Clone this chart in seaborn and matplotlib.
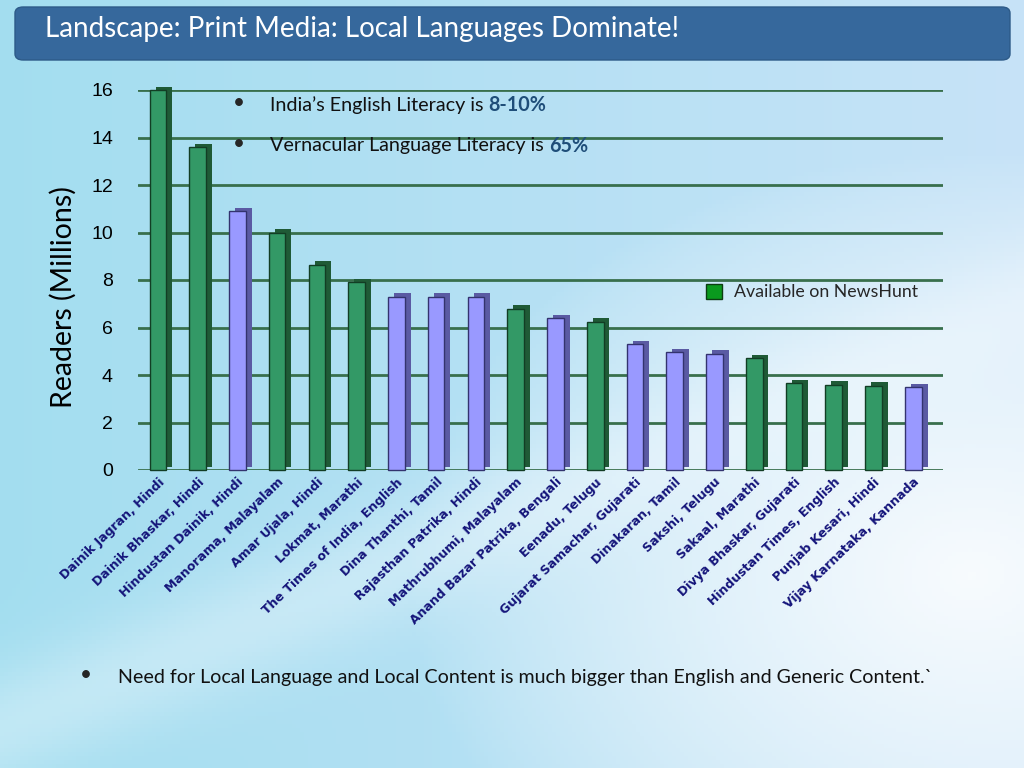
import numpy as np
import pandas as pd
import matplotlib
matplotlib.use("Agg")
import matplotlib.pyplot as plt
import matplotlib.patheffects as pe
import matplotlib.colors as mcolors
from matplotlib.patches import FancyBboxPatch, Patch
import seaborn as sns

papers = ["Dainik Jagran, Hindi", "Dainik Bhaskar, Hindi", "Hindustan Dainik, Hindi",
          "Manorama, Malayalam", "Amar Ujala, Hindi", "Lokmat, Marathi",
          "The Times of India, English", "Dina Thanthi, Tamil", "Rajasthan Patrika, Hindi",
          "Mathrubhumi, Malayalam", "Anand Bazar Patrika, Bengali", "Eenadu, Telugu",
          "Gujarat Samachar, Gujarati", "Dinakaran, Tamil", "Sakshi, Telugu",
          "Sakaal, Marathi", "Divya Bhaskar, Gujarati", "Hindustan Times, English",
          "Punjab Kesari, Hindi", "Vijay Karnataka, Kannada"]
readers = [16.0, 13.6, 10.9, 10.0, 8.65, 7.9, 7.3, 7.3, 7.3, 6.8,
           6.4, 6.25, 5.3, 4.95, 4.9, 4.7, 3.65, 3.6, 3.55, 3.5]
on_newshunt = [True, True, False, True, True, True, False, False, False, True,
               False, True, False, False, False, True, True, True, True, False]
yticks = [0, 2, 4, 6, 8, 10, 12, 14, 16]

sns.set_theme(style="white")
plt.rcParams['font.family'] = ['DejaVu Sans']

df = pd.DataFrame({"paper": papers, "readers": readers,
                   "group": ["yes" if v else "no" for v in on_newshunt]})

fig = plt.figure(figsize=(10.24, 7.68), dpi=100)

# background gradient
bg = fig.add_axes([0, 0, 1, 1], zorder=-10)
h, w = 192, 256
yy, xx = np.mgrid[0:1:h*1j, 0:1:w*1j]
left = np.array([0.64, 0.87, 0.94])
right = np.array([0.78, 0.89, 0.97])
white = np.array([0.97, 0.985, 0.995])
img = left[None, None, :] * (1 - xx[..., None]) + right[None, None, :] * xx[..., None]
d = np.sqrt(((xx - 0.95) / 0.55) ** 2 + ((yy - 0.75) / 0.55) ** 2)
wgt = np.clip(1 - d, 0, 1)[..., None] ** 0.8
img = img * (1 - wgt) + white * wgt
band = np.exp(-((yy - (0.95 - 0.55 * xx)) / 0.08) ** 2)[..., None] * 0.35
img = img * (1 - band) + white * band
bg.imshow(img, aspect='auto', extent=[0, 1, 0, 1], origin='upper')
bg.set_axis_off()

font = ['Lato', 'DejaVu Sans']

# title bar
fig.patches.append(FancyBboxPatch((15 / 1024, 1 - 60 / 768), 995 / 1024, 53 / 768,
                                  boxstyle="round,pad=0,rounding_size=0.008",
                                  transform=fig.transFigure, facecolor="#36689c",
                                  edgecolor="#2d5a88", linewidth=1, zorder=1))
fig.text(45 / 1024, 1 - 29 / 768, "Landscape: Print Media: Local Languages Dominate!",
         color="white", fontsize=20, va="center", ha="left", family=font)

ax = fig.add_axes([138 / 1024, 1 - 470 / 768, 805 / 1024, 380 / 768])
ax.patch.set_alpha(0)
green, purple = "#339966", "#9999ff"
sns.barplot(data=df, x="paper", y="readers", hue="group",
            palette={"yes": green, "no": purple}, dodge=False, saturation=1,
            legend=False, width=0.42, ax=ax, zorder=3)
edge = {"yes": "#123d24", "no": "#33336e"}
side = {"yes": "#1f5a36", "no": "#5a5aa3"}
for p in ax.patches:
    fc = np.array(mcolors.to_rgb(p.get_facecolor()))
    g = "yes" if np.abs(fc - np.array(mcolors.to_rgb(green))).sum() < 0.1 else "no"
    p.set_edgecolor(edge[g])
    p.set_linewidth(1.0)
    p.set_clip_on(False)
    p.set_path_effects([pe.SimplePatchShadow(offset=(4.3, 2.4), shadow_rgbFace=side[g], alpha=1.0),
                        pe.Normal()])

ax.set_xlim(-0.5, len(papers) - 0.25)
ax.set_ylim(0, 16)
ax.set_yticks(yticks)
ax.set_yticklabels([str(t) for t in yticks], fontsize=14, color="black",
                   family=['Liberation Sans', 'DejaVu Sans'])
ax.yaxis.grid(True, color="#386f4c", linewidth=2, zorder=0)
ax.set_axisbelow(True)
for s in ax.spines.values():
    s.set_visible(False)
ax.tick_params(axis='y', length=0, pad=18)
ax.tick_params(axis='x', length=0, pad=4)
ax.set_xlabel("")
ax.set_ylabel("Readers (Millions)", fontsize=20.5, color="black", family=font)
ax.yaxis.set_label_coords(-0.076, 0.455)
ax.set_xticks(range(len(papers)))
ax.set_xticklabels(papers, rotation=44, ha="right", rotation_mode="anchor",
                   fontsize=9.0, fontweight="bold", color="#14147a")

# bullets
fig.text(233 / 1024, 1 - 103 / 768, "•", fontsize=15, va="center", family=font)
t1 = fig.text(270 / 1024, 1 - 105 / 768, "India\u2019s English Literacy is ", fontsize=14.2,
              va="center", family=font, color="#111111")
fig.canvas.draw()
bb = t1.get_window_extent()
fig.text(bb.x1 / 1024, 1 - 105 / 768, "8-10%", fontsize=14.2, va="center", family=font,
         color="#1f4e79", fontweight="bold")
fig.text(233 / 1024, 1 - 144 / 768, "•", fontsize=15, va="center", family=font)
t2 = fig.text(270 / 1024, 1 - 146 / 768, "Vernacular Language Literacy is ", fontsize=14.2,
              va="center", family=font, color="#111111")
fig.canvas.draw()
bb = t2.get_window_extent()
fig.text(bb.x1 / 1024, 1 - 146 / 768, "65%", fontsize=14.2, va="center", family=font,
         color="#1f4e79", fontweight="bold")

# legend
fig.legend(handles=[Patch(facecolor="#0a9a1e", edgecolor="#0c3d12", label="Available on NewsHunt")],
           loc="center left", bbox_to_anchor=(690 / 1024, 1 - 292 / 768), frameon=False,
           prop={'family': font, 'size': 12.8}, handlelength=0.9, handleheight=0.9,
           handletextpad=0.7)

# bottom bullet
fig.text(80 / 1024, 1 - 675 / 768, "•", fontsize=15, va="center", family=font)
fig.text(118 / 1024, 1 - 677 / 768,
         "Need for Local Language and Local Content is much bigger than English and Generic Content.`",
         fontsize=14.1, va="center", family=font, color="#111111")

fig.savefig("out.png", dpi=100)
